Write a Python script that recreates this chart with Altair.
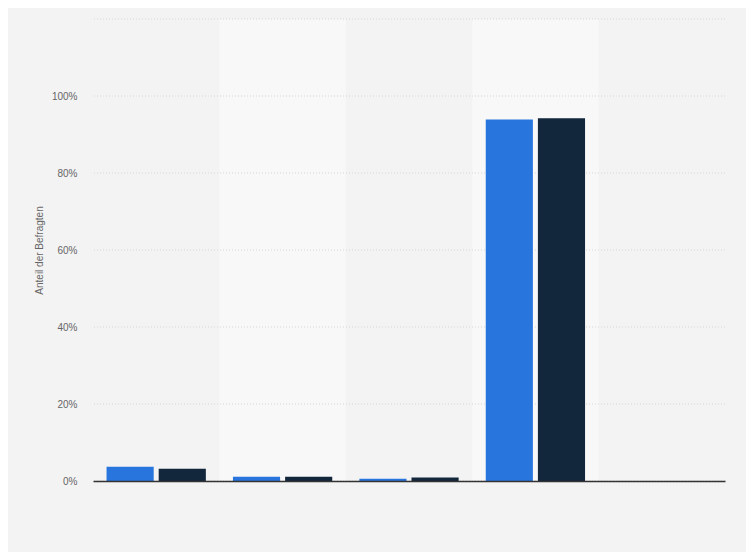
import altair as alt
import pandas as pd

categories = ["Kategorie 1", "Kategorie 2", "Kategorie 3", "Kategorie 4", "Kategorie 5"]
series = ["Serie A", "Serie B"]
values_a = [3.7, 1.1, 0.6, 93.9, 0.0]
values_b = [3.2, 1.1, 0.9, 94.2, 0.0]
y_ticks = [0, 20, 40, 60, 80, 100, 120]
shaded = ["Kategorie 2", "Kategorie 4"]

rows = []
for c, a, b in zip(categories, values_a, values_b):
    rows.append({"cat": c, "serie": series[0], "wert": a})
    rows.append({"cat": c, "serie": series[1], "wert": b})
df = pd.DataFrame(rows)
bands = pd.DataFrame({"cat": shaded, "y0": [0] * len(shaded), "y1": [y_ticks[-1]] * len(shaded)})
grid = pd.DataFrame({"y": y_ticks})

xscale = alt.Scale(domain=categories, paddingInner=0, paddingOuter=0)
yscale = alt.Scale(domain=[0, 120], nice=False)

band_layer = alt.Chart(bands).mark_rect(color="#f8f8f8").encode(
    x=alt.X("cat:N", scale=xscale, sort=categories,
            axis=alt.Axis(labels=False, ticks=False, title=None, domainColor="#333333",
                          domainWidth=1.5, zindex=1)),
    y=alt.Y("y0:Q", scale=yscale,
            axis=alt.Axis(values=y_ticks, grid=False, ticks=False, domain=False,
                          labelExpr="datum.value == 120 ? '' : datum.value + '%'",
                          labelFont="Liberation Sans", labelFontSize=10, labelColor="#666666",
                          labelPadding=16, title="Anteil der Befragten",
                          titleFont="Liberation Sans", titleFontSize=10, titleFontWeight="normal",
                          titleColor="#666666", titlePadding=7)),
    y2="y1:Q",
)

grid_layer = alt.Chart(grid).mark_rule(color="#d6d6d6", strokeDash=[1, 2], strokeWidth=1).encode(
    y=alt.Y("y:Q", scale=yscale),
)

bar_layer = alt.Chart(df).mark_bar().encode(
    x=alt.X("cat:N", scale=xscale, sort=categories),
    xOffset=alt.XOffset("serie:N", sort=series,
                        scale=alt.Scale(paddingInner=0.096, paddingOuter=0.26)),
    y=alt.Y("wert:Q", scale=yscale),
    color=alt.Color("serie:N", sort=series,
                    scale=alt.Scale(domain=series, range=["#2876dd", "#12263c"]),
                    legend=None),
)

chart = alt.layer(band_layer, grid_layer, bar_layer).properties(
    width=632,
    height=462,
    background="#f3f3f3",
    padding={"left": 85, "top": 11, "right": 21, "bottom": 71},
    autosize=alt.AutoSizeParams(type="none"),
).configure_view(stroke=None)

chart.save("out.html", embed_options={"renderer": "svg", "actions": False})
